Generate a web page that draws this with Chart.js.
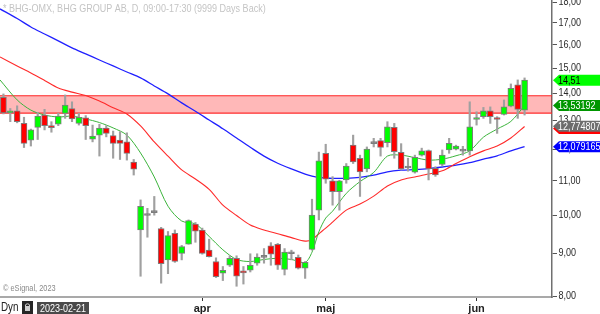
<!DOCTYPE html>
<html><head><meta charset="utf-8">
<script src="https://cdn.jsdelivr.net/npm/chart.js@4.4.0/dist/chart.umd.min.js"></script>
<style>html,body{margin:0;padding:0;background:#fff;overflow:hidden}canvas{display:block}</style>
</head><body>
<canvas id="c" width="600" height="314"></canvas>
<script>
const titleText = '* BHG-OMX, BHG GROUP AB, D, 09:00-17:30 (9999 Days Back)';
const opens  = [13.84,13.26,13.33,12.88,12.30,12.74,13.18,12.78,12.85,13.24,13.42,12.88,13.08,12.33,12.47,12.71,12.45,12.30,12.24,11.58,
                9.60,9.99,10.07,9.64,8.84,9.51,9.00,9.23,9.76,9.60,9.08,8.80,8.52,8.71,8.88,8.57,8.59,8.76,8.90,9.19,
                9.23,8.61,8.99,8.90,8.64,9.10,10.14,11.86,10.99,10.67,11.02,12.13,11.70,11.36,12.18,12.28,12.21,12.74,11.89,11.39,
                11.26,11.80,11.95,11.38,11.50,11.97,12.00,11.93,11.94,13.02,13.12,13.33,13.08,13.20,13.51,14.32,13.36];
const highs  = [13.97,13.42,13.52,13.10,12.68,13.28,13.39,12.94,13.25,13.93,13.67,13.24,13.16,12.82,12.85,12.80,12.61,12.59,12.55,11.66,
                10.43,10.19,10.53,9.67,9.56,9.60,9.20,9.87,9.80,9.65,9.36,8.89,8.68,8.94,8.94,8.68,8.99,8.99,9.12,9.27,
                9.25,9.12,9.08,8.96,8.80,10.45,11.90,12.16,11.12,11.01,11.53,12.47,11.80,12.07,12.36,12.36,12.94,12.88,12.18,11.70,
                11.80,12.03,11.97,11.43,11.97,12.36,12.13,12.09,13.67,13.30,13.46,13.48,13.12,13.74,14.36,14.52,14.60];
const lows   = [13.22,12.94,12.90,12.05,12.10,12.32,12.65,12.57,12.80,13.06,12.94,12.82,12.32,12.24,11.77,12.41,11.70,11.66,11.64,11.17,
                8.45,9.41,10.00,8.29,8.51,8.78,8.84,9.23,9.28,8.98,8.91,8.42,8.35,8.68,8.22,8.27,8.55,8.71,8.76,8.71,
                8.61,8.48,8.84,8.62,8.40,9.08,9.87,10.92,10.28,10.14,10.92,11.53,10.53,11.27,12.07,11.77,12.07,11.70,11.33,11.29,
                11.23,11.77,11.02,11.13,11.45,11.86,11.97,11.80,11.80,12.82,13.06,12.88,12.53,13.18,13.48,13.06,13.18];
const closes = [13.26,13.33,12.94,12.19,12.65,13.14,12.80,12.73,13.14,13.55,13.04,13.10,12.80,12.44,12.71,12.53,12.19,12.19,11.86,11.35,
                10.25,10.01,10.09,8.75,9.45,8.80,9.17,9.85,9.57,9.00,8.92,8.44,8.59,8.88,8.45,8.53,8.71,8.91,8.92,8.98,
                8.71,9.03,9.01,8.64,8.78,10.00,11.62,11.04,10.67,10.99,11.45,11.58,11.27,12.00,12.20,12.05,12.76,11.91,11.36,11.41,
                11.73,11.94,11.36,11.17,11.80,12.19,12.10,11.94,12.76,13.08,13.33,13.12,13.02,13.48,14.19,13.39,14.51];

const maIndex = [-0.5,2,4,6,8,10,12,14,16,18,20,22,24,26,28,30,32,34,36,38,40,42,44,45,46,47,48,50,52,54,56,58,60,62,64,66,68,70,72,74,76];
const maGreen = [14.52,13.74,13.36,13.18,13.11,13.14,13.04,12.91,12.72,12.47,11.87,11.11,10.25,9.84,9.76,9.43,9.09,8.85,8.80,8.85,8.88,8.85,8.78,9.03,9.55,9.92,10.11,10.62,10.97,11.25,11.77,11.80,11.72,11.64,11.67,11.78,11.94,12.40,12.68,12.95,13.53];
const maRed   = [15.47,15.09,14.80,14.50,14.20,14.04,13.91,13.70,13.45,13.22,12.79,12.24,11.77,11.33,11.05,10.74,10.28,9.99,9.73,9.60,9.50,9.40,9.31,9.35,9.50,9.65,9.81,10.14,10.31,10.54,10.84,11.02,11.11,11.20,11.30,11.53,11.75,11.94,12.10,12.37,12.77];
const maBlue  = [17.66,17.20,16.80,16.48,16.17,15.86,15.60,15.34,15.09,14.84,14.60,14.28,13.97,13.63,13.32,13.00,12.69,12.37,12.06,11.77,11.54,11.36,11.20,11.14,11.10,11.08,11.07,11.07,11.10,11.17,11.27,11.32,11.34,11.37,11.42,11.48,11.56,11.67,11.78,11.94,12.08];

const zoneHigh = 13.90;
const zoneLow = 13.25;
const yTickValues = [8,9,10,11,12,13,14,15,16,17,18];
const monthIndex = [29,47,69];
const monthLabels = ['apr','maj','jun'];
const tagValues = [14.51,13.53192,12.70,12.774807,12.079165];
const tagTexts  = ['14,51','13,53192','','12,774807','12,079165'];
const tagBg = ['#00ff00','#009600','#ff0000','#6d6d6d','#0000ff'];
const tagFg = ['#000000','#ffffff','#ffffff','#ffffff','#ffffff'];
const startDate = '2023-02-21';

const FONT = '"Liberation Sans",Arial,sans-serif';
const NARROW = 0.82;
const idx = opens.map((_, i) => i);
const isDoji = i => Math.abs(closes[i] - opens[i]) < 0.025;
const bodyColor = idx.map(i => isDoji(i) ? '#808080' : (closes[i] > opens[i] ? '#00ff00' : '#ff0000'));
const wickData = idx.map(i => ({x: i, y: [lows[i], highs[i]]}));
const bodyData = idx.map(i => ({x: i, y: [Math.min(opens[i], closes[i]), Math.max(opens[i], closes[i])]}));
const maLine = vals => maIndex.map((x, i) => ({x, y: vals[i]}));
const X_MAX = 80;

function narrowText(ctx, text, x, y) {
  ctx.save();
  ctx.translate(x, y);
  ctx.scale(NARROW, 1);
  ctx.fillText(text, 0, 0);
  ctx.restore();
}

const decor = {
  id: 'decor',
  beforeDraw(chart) {
    const s = chart.scales.y;
    if (s && !s._narrowed) {
      const orig = s.drawLabels.bind(s);
      s.drawLabels = function (area) {
        const ctx = this.ctx, x0 = this.left;
        ctx.save();
        ctx.translate(x0, 0); ctx.scale(NARROW, 1); ctx.translate(-x0, 0);
        orig(area);
        ctx.restore();
      };
      s._narrowed = true;
    }
  },
  beforeDatasetsDraw(chart) {
    const ctx = chart.ctx;
    ctx.save();
    ctx.textBaseline = 'middle';
    ctx.font = '11px ' + FONT;
    ctx.fillStyle = '#c4c4c4';
    narrowText(ctx, titleText, 3, 9);
    ctx.font = '9px ' + FONT;
    ctx.fillStyle = '#8a8a8a';
    narrowText(ctx, '\u00a9 eSignal, 2023', 3, 289);
    ctx.restore();
  },
  afterDraw(chart) {
    const ctx = chart.ctx, ys = chart.scales.y;
    ctx.save();
    ctx.textBaseline = 'middle';
    tagValues.forEach((v, i) => {
      const py = ys.getPixelForValue(v);
      const x0 = 553, h = 5.5;
      ctx.beginPath();
      ctx.moveTo(x0, py); ctx.lineTo(x0 + 6, py - h); ctx.lineTo(600, py - h);
      ctx.lineTo(600, py + h); ctx.lineTo(x0 + 6, py + h); ctx.closePath();
      ctx.fillStyle = tagBg[i]; ctx.fill();
      if (tagTexts[i]) {
        ctx.fillStyle = tagFg[i];
        ctx.font = '11px ' + FONT;
        narrowText(ctx, tagTexts[i], 558, py + 0.5);
      }
    });
    ctx.fillStyle = '#222';
    ctx.font = '12px ' + FONT;
    narrowText(ctx, 'Dyn', 1, 308);
    ctx.fillStyle = '#262626';
    ctx.fillRect(22, 301, 11, 13);
    ctx.strokeStyle = '#cfcfcf'; ctx.lineWidth = 1;
    ctx.beginPath(); ctx.arc(27.5, 306, 2.2, Math.PI, 0); ctx.stroke();
    ctx.fillStyle = '#cfcfcf'; ctx.fillRect(25, 306, 5, 5);
    ctx.fillStyle = '#4a4a4a';
    ctx.fillRect(37, 302, 52, 12);
    ctx.fillStyle = '#ffffff';
    ctx.font = '11px ' + FONT;
    narrowText(ctx, startDate, 40, 308.5);
    ctx.restore();
  }
};

new Chart(document.getElementById('c'), {
  type: 'bar',
  data: {
    datasets: [
      {type: 'line', data: [{x: -0.5, y: zoneHigh}, {x: X_MAX, y: zoneHigh}], borderColor: '#ff2a2a', borderWidth: 1.2, pointRadius: 0, fill: false, order: 20},
      {type: 'line', data: [{x: -0.5, y: zoneLow}, {x: X_MAX, y: zoneLow}], borderColor: '#ff2a2a', borderWidth: 1.2, pointRadius: 0, fill: '-1', backgroundColor: 'rgba(255,0,0,0.28)', order: 19},
      {type: 'line', data: maLine(maBlue), borderColor: '#2020ff', borderWidth: 1.3, pointRadius: 0, tension: 0.3, order: 5},
      {type: 'line', data: maLine(maRed), borderColor: '#ff2a2a', borderWidth: 1.1, pointRadius: 0, tension: 0.3, order: 4},
      {type: 'line', data: maLine(maGreen), borderColor: '#3cb43c', borderWidth: 1, pointRadius: 0, tension: 0.3, order: 3},
      {type: 'bar', data: wickData, backgroundColor: '#a0a0a0', barThickness: 1.5, grouped: false, order: 2},
      {type: 'bar', data: bodyData, backgroundColor: bodyColor, borderColor: '#7d7d7d', borderWidth: 1, borderSkipped: false, barThickness: 6, grouped: false, minBarLength: 2, order: 1}
    ]
  },
  options: {
    responsive: false,
    animation: false,
    devicePixelRatio: 1,
    layout: {padding: 0},
    plugins: {legend: {display: false}, tooltip: {enabled: false}},
    scales: {
      x: {
        type: 'linear', min: -0.5, max: X_MAX, bounds: 'data', offset: false, position: 'bottom',
        afterBuildTicks: s => { s.ticks = monthIndex.map(v => ({value: v})); },
        afterFit: s => { s.height = 17; s.paddingLeft = 0; s.paddingRight = 0; },
        grid: {drawOnChartArea: false, tickLength: 4, color: '#333', offset: false},
        border: {color: '#a9a9a9', width: 2},
        ticks: {autoSkip: false, maxRotation: 0, padding: 1, color: '#222', font: {size: 11, weight: 'bold', family: FONT},
          callback: v => { const k = monthIndex.indexOf(v); return k >= 0 ? monthLabels[k] : ''; }}
      },
      y: {
        type: 'logarithmic', position: 'right', min: 7.98, max: 18.10, bounds: 'data',
        afterBuildTicks: s => { s.ticks = yTickValues.map(v => ({value: v})); },
        afterFit: s => { s.width = 48; s.paddingTop = 0; s.paddingBottom = 0; },
        grid: {drawOnChartArea: false, tickLength: 5, color: '#555'},
        border: {color: '#707070', width: 1.5},
        ticks: {autoSkip: false, padding: 3, color: '#2a2a2a', font: {size: 11, family: FONT},
          callback: v => Number(v).toFixed(2).replace('.', ',')}
      }
    }
  },
  plugins: [decor]
});
</script>
</body></html>
